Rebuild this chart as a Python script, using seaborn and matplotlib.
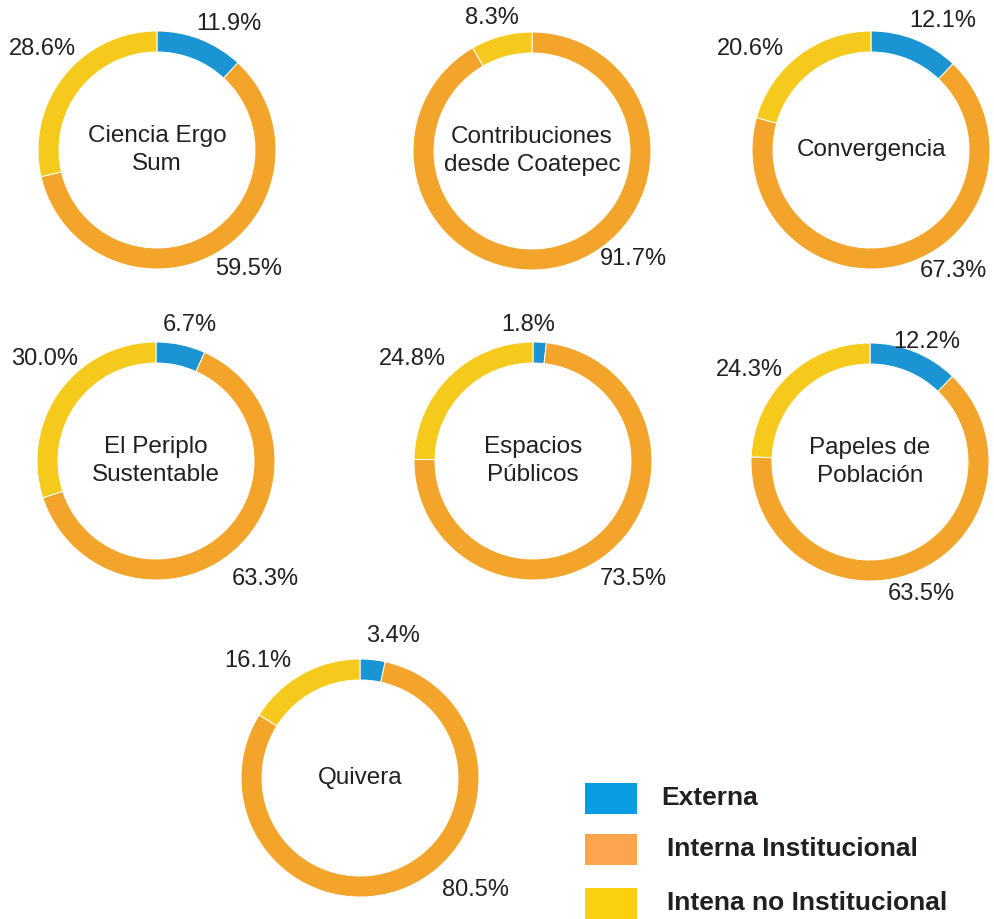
import matplotlib
matplotlib.use("Agg")
import matplotlib.pyplot as plt
import seaborn as sns
from matplotlib.patches import Rectangle

# ---- data ----
journals = ["Ciencia Ergo\nSum", "Contribuciones\ndesde Coatepec", "Convergencia",
            "El Periplo\nSustentable", "Espacios\nPúblicos", "Papeles de\nPoblación", "Quivera"]
categories = ["Externa", "Interna Institucional", "Intena no Institucional"]
externa = [11.9, 0.0, 12.1, 6.7, 1.8, 12.2, 3.4]
interna = [59.5, 91.7, 67.3, 63.3, 73.5, 63.5, 80.5]
no_inst = [28.6, 8.3, 20.6, 30.0, 24.8, 24.3, 16.1]

# ---- style / layout ----
sns.set_theme(style="white")
plt.rcParams["font.family"] = ["Liberation Sans", "DejaVu Sans"]
ring_colors = ["#1a94d2", "#f3a42b", "#f6ca1c"]
legend_colors = ["#0a9ce0", "#fba64c", "#fbd00c"]
txt = "#231f20"

W, H = 994, 919
centers = [(157, 150), (532, 151), (871, 150),
           (156, 461), (533, 461), (870, 462),
           (360, 778)]
R = 119
RING = 21
# label offsets (units of R, y up) per chart, per category
label_off = [
    [(0.60, 1.06), (0.77, -1.00), (-0.96, 0.85)],
    [None, (0.85, -0.91), (-0.34, 1.12)],
    [(0.60, 1.08), (0.69, -1.02), (-1.01, 0.85)],
    [(0.28, 1.14), (0.92, -0.99), (-0.94, 0.86)],
    [(-0.04, 1.14), (0.84, -0.99), (-1.01, 0.86)],
    [(0.48, 1.01), (0.43, -1.11), (-1.01, 0.77)],
    [(0.28, 1.19), (0.97, -0.94), (-0.86, 0.98)],
]

fig = plt.figure(figsize=(W / 100, H / 100), dpi=100)
ax = fig.add_axes([0, 0, 1, 1])

for i, name in enumerate(journals):
    vals = [externa[i], interna[i], no_inst[i]]
    cx, cy = centers[i]
    cy = H - cy
    ax.pie(vals, center=(cx, cy), radius=R, counterclock=False, startangle=90,
           colors=ring_colors,
           wedgeprops=dict(width=RING, edgecolor="white", linewidth=0.7))
    ax.text(cx, cy, name, ha="center", va="center", fontsize=17.5, color=txt,
            linespacing=1.35)
    for j, v in enumerate(vals):
        off = label_off[i][j]
        if v <= 0 or off is None:
            continue
        ax.text(cx + off[0] * R, cy + off[1] * R, f"{v:.1f}%", ha="center",
                va="center", fontsize=17, color=txt)

# legend
leg_y = [798, 849, 903]
leg_tx = [661, 667, 667]
for k, lab in enumerate(categories):
    y = H - leg_y[k]
    ax.add_patch(Rectangle((585, y - 15.5), 52, 31, facecolor=legend_colors[k],
                           edgecolor="none"))
    ax.text(leg_tx[k], y, lab, ha="left", va="center", fontsize=19,
            fontweight="bold", color=txt)

ax.set_xlim(0, W)
ax.set_ylim(0, H)
ax.set_aspect("equal")
ax.axis("off")
fig.savefig("out.png", dpi=100, facecolor="white")
